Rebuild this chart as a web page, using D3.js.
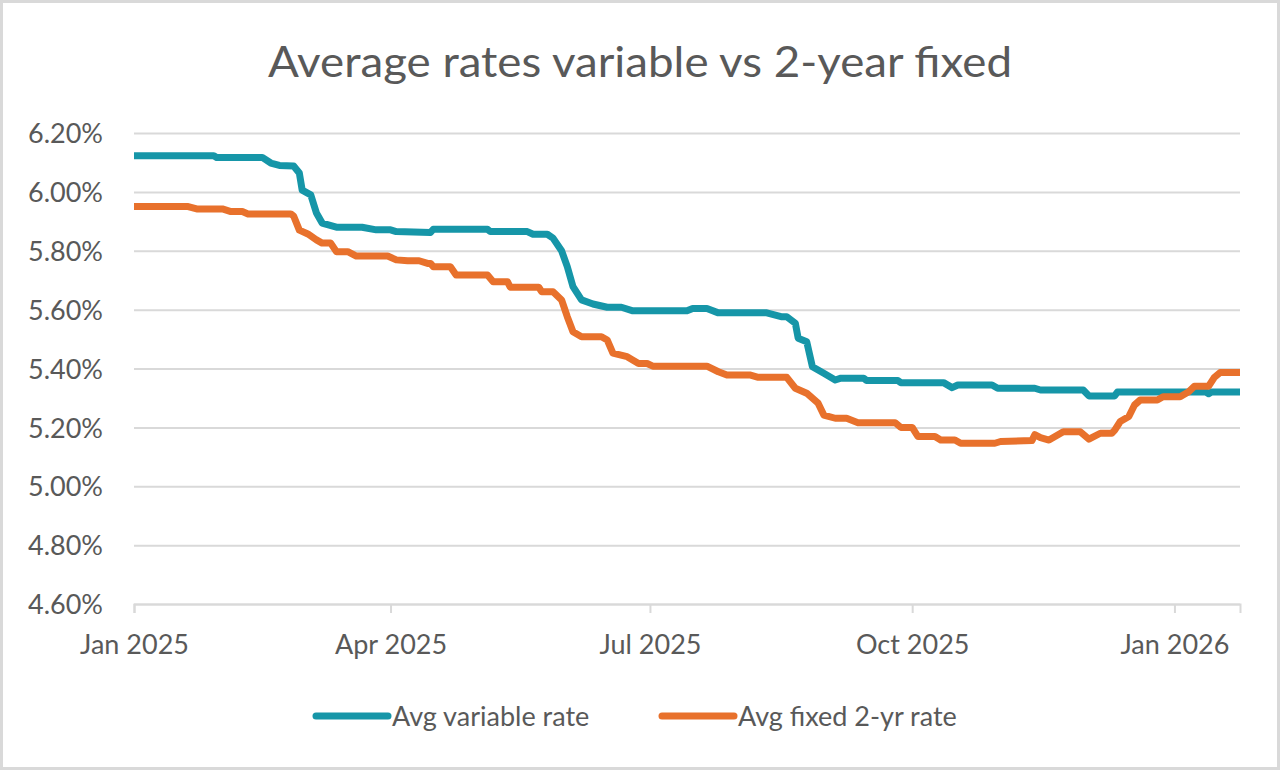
<!DOCTYPE html>
<html>
<head>
<meta charset="utf-8">
<script src="https://cdn.jsdelivr.net/npm/d3@7"></script>
<style>
  html, body { margin: 0; padding: 0; background: #fff; }
  svg { display: block; }
</style>
</head>
<body>
<svg id="chart" width="1280" height="770"></svg>
<script>
// Average mortgage rates (daily series, step changes)
const variableDates = ['2025-01-01','2025-01-29','2025-01-30','2025-02-15','2025-02-18','2025-02-21','2025-02-26','2025-02-28','2025-03-01','2025-03-04','2025-03-06','2025-03-08','2025-03-13','2025-03-22','2025-03-27','2025-04-01','2025-04-03','2025-04-15','2025-04-16','2025-05-05','2025-05-06','2025-05-19','2025-05-21','2025-05-26','2025-05-28','2025-05-31','2025-06-02','2025-06-04','2025-06-07','2025-06-11','2025-06-16','2025-06-21','2025-06-25','2025-07-14','2025-07-16','2025-07-21','2025-07-25','2025-08-11','2025-08-16','2025-08-18','2025-08-21','2025-08-22','2025-08-25','2025-08-27','2025-08-31','2025-09-04','2025-09-06','2025-09-14','2025-09-15','2025-09-26','2025-09-27','2025-10-12','2025-10-15','2025-10-17','2025-10-29','2025-10-31','2025-11-13','2025-11-15','2025-11-30','2025-12-02','2025-12-11','2025-12-12','2026-01-12','2026-01-13','2026-01-14','2026-01-24']
const variableRates = [6.123,6.123,6.117,6.117,6.098,6.090,6.088,6.064,6.006,5.990,5.928,5.894,5.880,5.880,5.871,5.871,5.865,5.862,5.873,5.873,5.865,5.865,5.856,5.856,5.843,5.800,5.746,5.678,5.633,5.619,5.608,5.608,5.596,5.596,5.604,5.604,5.589,5.589,5.576,5.576,5.554,5.503,5.491,5.406,5.384,5.361,5.367,5.367,5.359,5.359,5.352,5.352,5.335,5.344,5.344,5.333,5.333,5.327,5.327,5.307,5.307,5.320,5.320,5.314,5.320,5.320]

const fixedDates = ['2025-01-01','2025-01-20','2025-01-23','2025-02-01','2025-02-04','2025-02-08','2025-02-10','2025-02-25','2025-02-26','2025-02-28','2025-03-03','2025-03-06','2025-03-08','2025-03-11','2025-03-13','2025-03-17','2025-03-20','2025-03-31','2025-04-03','2025-04-07','2025-04-11','2025-04-14','2025-04-15','2025-04-16','2025-04-22','2025-04-24','2025-05-05','2025-05-07','2025-05-12','2025-05-13','2025-05-23','2025-05-24','2025-05-28','2025-05-31','2025-06-02','2025-06-04','2025-06-07','2025-06-14','2025-06-16','2025-06-18','2025-06-23','2025-06-27','2025-06-30','2025-07-02','2025-07-21','2025-07-25','2025-07-28','2025-08-05','2025-08-08','2025-08-18','2025-08-21','2025-08-25','2025-08-29','2025-08-31','2025-09-04','2025-09-08','2025-09-12','2025-09-25','2025-09-27','2025-10-01','2025-10-03','2025-10-09','2025-10-11','2025-10-16','2025-10-18','2025-10-30','2025-11-01','2025-11-12','2025-11-13','2025-11-15','2025-11-18','2025-11-23','2025-11-29','2025-12-02','2025-12-06','2025-12-10','2025-12-11','2025-12-13','2025-12-16','2025-12-18','2025-12-20','2025-12-26','2025-12-28','2026-01-03','2026-01-06','2026-01-08','2026-01-13','2026-01-15','2026-01-17','2026-01-24']
const fixedRates = [5.950,5.950,5.942,5.942,5.933,5.933,5.925,5.925,5.918,5.870,5.857,5.837,5.826,5.826,5.797,5.797,5.782,5.782,5.769,5.766,5.766,5.757,5.757,5.746,5.746,5.718,5.718,5.695,5.695,5.676,5.676,5.661,5.661,5.633,5.576,5.525,5.508,5.508,5.497,5.452,5.440,5.417,5.417,5.408,5.408,5.389,5.378,5.378,5.370,5.370,5.333,5.316,5.282,5.242,5.231,5.231,5.216,5.216,5.200,5.200,5.169,5.169,5.157,5.157,5.146,5.146,5.152,5.155,5.175,5.165,5.157,5.185,5.185,5.160,5.180,5.180,5.190,5.220,5.237,5.276,5.293,5.293,5.304,5.304,5.321,5.340,5.340,5.370,5.386,5.386]

const seriesNames = ['Avg variable rate', 'Avg fixed 2-yr rate']
const seriesColors = ['#1696a8', '#e8712c']
const yTicks = [4.6, 4.8, 5.0, 5.2, 5.4, 5.6, 5.8, 6.0, 6.2]
const xTicks = ['2025-01-01', '2025-04-01', '2025-07-01', '2025-10-01', '2026-01-01']
const chartTitle = 'Average rates variable vs 2-year fixed'

const parse = d3.timeParse('%Y-%m-%d')
const FONT = 'Lato, "Open Sans", sans-serif'
const GREY = '#595959'
const GRID = '#d9d9d9'

const svg = d3.select('#chart')
const W = 1280, H = 770
const m = { left: 134, right: 40, top: 133, bottom: 166 }

// outer frame
svg.append('rect')
  .attr('x', 1.5).attr('y', 1.5)
  .attr('width', W - 3).attr('height', H - 3)
  .attr('fill', '#fff').attr('stroke', GRID).attr('stroke-width', 3)

const x = d3.scaleTime()
  .domain([parse('2025-01-01'), parse('2026-01-24')])
  .range([m.left, W - m.right])
const y = d3.scaleLinear()
  .domain([4.6, 6.2])
  .range([H - m.bottom, m.top])

// title
svg.append('text')
  .attr('x', 640).attr('y', 77)
  .attr('text-anchor', 'middle')
  .attr('textLength', 744).attr('lengthAdjust', 'spacingAndGlyphs')
  .style('font-family', FONT).style('font-size', '43px')
  .style('fill', GREY)
  .text(chartTitle)

// gridlines + y labels
const yAxis = svg.append('g')
  .attr('transform', `translate(${m.left},0)`)
  .call(d3.axisLeft(y).tickValues(yTicks)
    .tickSize(-(W - m.left - m.right))
    .tickPadding(31)
    .tickFormat(d => d.toFixed(2) + '%'))
yAxis.select('.domain').remove()
yAxis.selectAll('.tick line')
  .attr('stroke', GRID).attr('stroke-width', 2)
yAxis.selectAll('.tick text')
  .style('font-family', FONT).style('font-size', '27px')
  .style('fill', GREY)
  .attr('dy', '0.36em')

// x axis
const xAxis = svg.append('g')
  .attr('transform', `translate(0,${y(4.6)})`)
  .call(d3.axisBottom(x).tickValues(xTicks.map(parse))
    .tickSize(9).tickPadding(22)
    .tickFormat(d3.timeFormat('%b %Y')))
xAxis.select('.domain').attr('stroke', GRID).attr('stroke-width', 2)
xAxis.selectAll('.tick line').attr('stroke', GRID).attr('stroke-width', 2)
xAxis.selectAll('.tick text')
  .style('font-family', FONT).style('font-size', '27px')
  .style('fill', GREY)

// lines
const series = [
  variableDates.map((d, i) => ({ date: parse(d), value: variableRates[i] })),
  fixedDates.map((d, i) => ({ date: parse(d), value: fixedRates[i] }))
]
const line = d3.line()
  .x(d => x(d.date))
  .y(d => y(d.value))

series.forEach((s, i) => {
  svg.append('path')
    .datum(s)
    .attr('fill', 'none')
    .attr('stroke', seriesColors[i])
    .attr('stroke-width', 7)
    .attr('stroke-linejoin', 'round')
    .attr('stroke-linecap', 'butt')
    .attr('d', line)
})

// legend
const legendX = [316, 662]
const legend = svg.append('g').attr('transform', 'translate(0,716)')
seriesNames.forEach((name, i) => {
  const g = legend.append('g').attr('transform', `translate(${legendX[i]},0)`)
  g.append('line')
    .attr('x1', 0).attr('x2', 72)
    .attr('stroke', seriesColors[i]).attr('stroke-width', 7)
    .attr('stroke-linecap', 'round')
  g.append('text')
    .attr('x', 76).attr('dy', '0.36em')
    .style('font-family', FONT).style('font-size', '27px')
    .style('fill', GREY)
    .text(name)
})
</script>
</body>
</html>
